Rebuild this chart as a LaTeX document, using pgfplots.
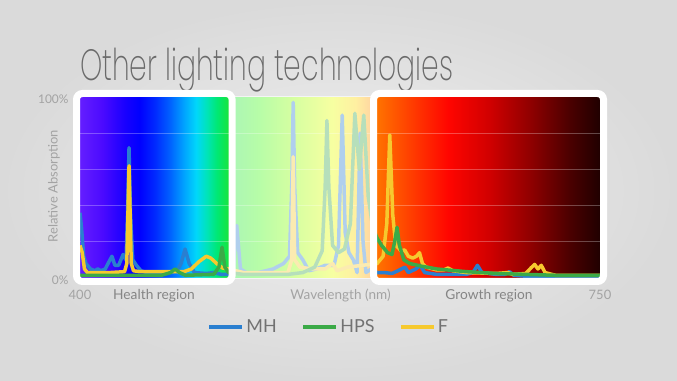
\documentclass[border=0pt]{standalone}
\usepackage{fontspec}
\setmainfont{Lato}
\newfontfamily\titlefont{Poppins ExtraLight}
\usepackage{graphicx}
\usepackage{pgfplots}
\pgfplotsset{compat=1.18}

\definecolor{mhblue}{HTML}{2A7FD0}
\definecolor{hpsgreen}{HTML}{3BAA47}
\definecolor{fyellow}{HTML}{F6C92E}
\definecolor{txtgray}{HTML}{858585}
\definecolor{lightgray2}{HTML}{A3A3A3}
\definecolor{titlegray}{HTML}{6A6A6A}
\definecolor{legtext}{HTML}{727272}
\definecolor{bgin}{HTML}{F0F0F0}
\definecolor{bgout}{HTML}{DADADA}

% spectrum colour stops
\definecolor{L1}{RGB}{100,30,255}
\definecolor{L2}{RGB}{75,10,255}
\definecolor{L3}{RGB}{25,0,255}
\definecolor{L4}{RGB}{0,0,255}
\definecolor{L5}{RGB}{0,40,255}
\definecolor{L6}{RGB}{0,95,255}
\definecolor{L7}{RGB}{0,165,255}
\definecolor{L8}{RGB}{0,215,250}
\definecolor{L9}{RGB}{0,228,185}
\definecolor{L10}{RGB}{0,232,115}
\definecolor{L11}{RGB}{25,228,60}
\definecolor{M2}{RGB}{60,250,20}
\definecolor{M3}{RGB}{150,255,0}
\definecolor{M4}{RGB}{235,255,0}
\definecolor{M5}{RGB}{255,215,0}
\definecolor{M6}{RGB}{255,120,0}
\definecolor{R1}{RGB}{255,115,0}
\definecolor{R2}{RGB}{255,80,0}
\definecolor{R3}{RGB}{255,45,0}
\definecolor{R4}{RGB}{255,5,0}
\definecolor{R5}{RGB}{208,0,0}
\definecolor{R6}{RGB}{144,0,0}
\definecolor{R7}{RGB}{74,0,0}
\definecolor{R8}{RGB}{32,0,0}

\pgfdeclarehorizontalshading{specL}{100bp}{color(0bp)=(L1); color(25bp)=(L1); color(32.5bp)=(L2); color(40bp)=(L3); color(45bp)=(L4); color(50bp)=(L5); color(55bp)=(L6); color(60bp)=(L7); color(64bp)=(L8); color(67.5bp)=(L9); color(71bp)=(L10); color(75bp)=(L11); color(100bp)=(L11)}
\pgfdeclarehorizontalshading{specM}{100bp}{color(0bp)=(L11); color(25bp)=(L11); color(35bp)=(M2); color(47.5bp)=(M3); color(60bp)=(M4); color(67.5bp)=(M5); color(75bp)=(M6); color(100bp)=(M6)}
\pgfdeclarehorizontalshading{specR}{100bp}{color(0bp)=(R1); color(25bp)=(R1); color(30bp)=(R2); color(35bp)=(R3); color(41bp)=(R4); color(50.33bp)=(R5); color(59.33bp)=(R6); color(68.33bp)=(R7); color(75bp)=(R8); color(100bp)=(R8)}

\begin{document}
\begin{tikzpicture}
% page background
\shade[inner color=bgin, outer color=bgout] (0bp,0bp) rectangle (677bp,381bp);

% title
\node[anchor=base west, inner sep=0pt, text=titlegray] at (80bp,300.3bp)
  {\resizebox{373bp}{32.5bp}{\titlefont Other lighting technologies}};

\begin{axis}[
  at={(80bp,103bp)}, anchor=south west,
  scale only axis, width=520bp, height=181bp,
  xmin=400, xmax=750, ymin=0, ymax=100,
  axis line style={draw=none},
  tick style={draw=none}, major tick length=0pt,
  xtick={400,750}, xticklabels={400,750},
  ytick={0,100}, yticklabels={0\%,100\%},
  ticklabel style={font=\fontsize{13}{15}\selectfont, text=lightgray2},
  xticklabel style={anchor=base, yshift=-22bp},
  yticklabel style={anchor=base east, xshift=-8bp, yshift=-6.5bp, font=\fontsize{12}{14}\selectfont},
  xlabel={Wavelength (nm)},
  xlabel style={at={(axis description cs:0.501,0)}, anchor=base, yshift=-22bp,
    font=\fontsize{13.6}{15}\selectfont, text=lightgray2},
  ylabel={Relative Absorption},
  every axis y label/.style={at={(axis description cs:-0.05,0.508)}, rotate=90, anchor=center,
    font=\fontsize{13}{15}\selectfont, text=lightgray2},
  clip mode=individual,
  legend style={at={(axis description cs:0.478,-0.271)}, anchor=center,
    draw=none, fill=none, font=\fontsize{18}{20}\selectfont, text=legtext,
    /tikz/every even column/.append style={column sep=22bp}},
  legend columns=3,
  legend image code/.code={\draw[#1, line width=4.5bp] (0bp,0bp) -- (33bp,0bp);},
]
% spectrum backgrounds
\shade[shading=specL] (axis cs:400,0) rectangle (axis cs:500.3,100);
\shade[shading=specM] (axis cs:499.7,0) rectangle (axis cs:600.3,99.6);
\shade[shading=specR] (axis cs:599.7,0) rectangle (axis cs:750,100);
% faint gridlines
\draw[white, opacity=0.28, line width=0.8bp] (axis cs:400,20) -- (axis cs:750,20);
\draw[white, opacity=0.28, line width=0.8bp] (axis cs:400,40) -- (axis cs:750,40);
\draw[white, opacity=0.28, line width=0.8bp] (axis cs:400,60) -- (axis cs:750,60);
\draw[white, opacity=0.28, line width=0.8bp] (axis cs:400,80) -- (axis cs:750,80);

% MH
\addplot[mhblue, line width=3.5bp, line join=round, forget plot] coordinates {
(400,36) (401,28) (402.5,12) (404,8) (407,5) (410,4) (412,5) (414,4) (417,5) (419.5,9)
(421.5,12) (423.5,7) (426,7) (429,13) (431,10) (432,35) (433,72) (434,35) (435.5,10)
(438,7) (441,4) (445,3) (455,3) (465,3.5) (468,8) (470.7,16) (473.5,8) (477,3) (485,2.5)
(490,3) (495,2) (500,2) (503,3) (505.5,29) (508,5) (512,3) (520,3) (530,5) (537,8) (541,12)
(542.5,50) (543.5,97) (544.5,50) (546.5,14) (550,10) (554,4) (559,5) (565,7) (571,7)
(574,18) (576.5,90) (578.5,25) (581,14) (584,10) (586.5,3) (588.5,80) (590.5,20) (592.5,3)
(596,5) (600,3) (605,3) (610,2.5) (614,4) (618.7,6) (621,3) (626,5) (629,7) (632,3)
(640,2) (660,2) (664.5,3) (667.5,7) (670.5,3) (680,2) (686,2) (689,3.5) (692,1.5) (700,1) (750,1)
};
% F
\addplot[fyellow, line width=3.5bp, line join=round, forget plot] coordinates {
(400,18) (401.5,14) (403,5) (405,3) (420,3) (430,3.5) (431.5,8) (433,62) (434.5,8) (436,4)
(440,3.5) (470,3.5) (475,5) (480,9) (485,12) (488,11) (492,8) (496,5.5) (500,5) (510,3)
(540,3) (542.5,10) (543.5,67) (544.5,10) (548,6) (556,5) (565,5) (570,8) (573,4) (580,6)
(590,7) (600,8) (604,12) (606.5,30) (608.5,79) (610.5,35) (612.5,18) (614.5,16.5) (616,15)
(618.5,15.5) (621,12) (624,11) (626.5,12) (628.5,14) (630.5,8) (633,6) (640,4.5) (645,4.5)
(647.7,5.5) (651,4) (660,3) (680,2.5) (688,3) (691,2) (700,2.5) (703.5,5.5) (706,7.5)
(708.2,5) (710.5,7) (713,3) (720,1.5) (750,1.5)
};
% HPS
\addplot[hpsgreen, line width=3.5bp, line join=round, forget plot] coordinates {
(400,1.5) (420,1.5) (455,1.5) (461,3) (464,5) (467,3) (471,1.5) (490,2) (493.5,6) (495.6,17)
(497.5,6) (500,3) (510,2) (540,2) (550,3) (558,6) (563,15) (565,50) (566.2,87) (567.5,50)
(570,18) (574,14) (578,16) (582,30) (585,91) (588,60) (591,90) (594,45) (597,28) (600,22)
(603,18) (607,14) (610,13) (611.8,20) (613.4,28) (615,18) (618,10) (622,8) (630,6.5)
(640,5) (660,3.5) (680,2.5) (700,2) (720,1.5) (750,1.5)
};
% faded middle region
\fill[white, opacity=0.63] (axis cs:500,-0.6) rectangle (axis cs:600,100.4);

\addlegendimage{mhblue}
\addlegendentry{MH}
\addlegendimage{hpsgreen}
\addlegendentry{HPS}
\addlegendimage{fyellow}
\addlegendentry{F}
\end{axis}

% white frames around the highlighted regions
\draw[white, line width=7bp, rounded corners=6bp] (76.5bp,99.5bp) rectangle (232.1bp,287.5bp);
\draw[white, line width=7bp, rounded corners=6bp] (373.6bp,99.5bp) rectangle (603.5bp,287.5bp);

% region labels
\node[anchor=base, text=txtgray, font=\fontsize{13.8}{15}\selectfont] at (154bp,81bp) {Health region};
\node[anchor=base, text=txtgray, font=\fontsize{13.8}{15}\selectfont] at (489bp,81bp) {Growth region};
\end{tikzpicture}
\end{document}
